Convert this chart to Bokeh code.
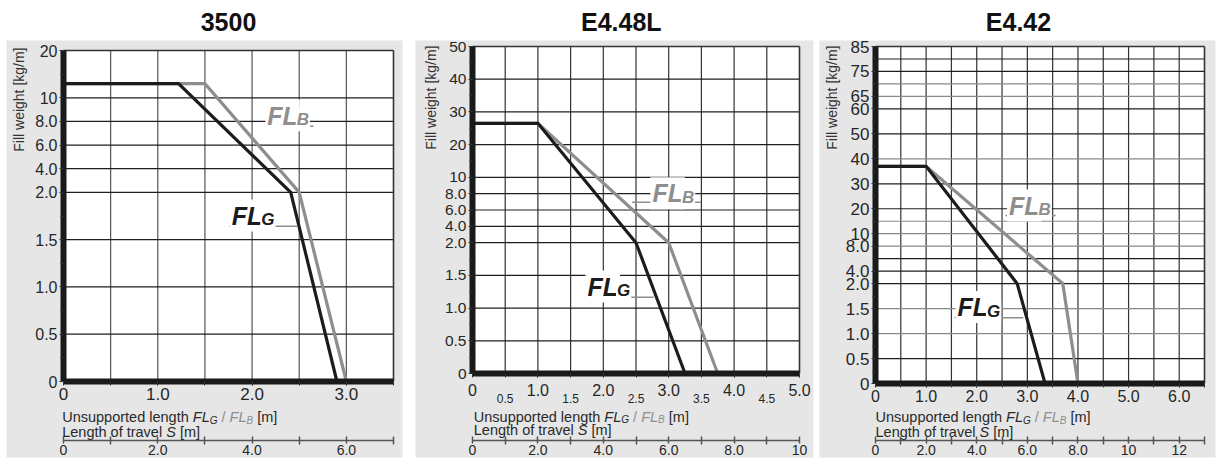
import numpy as np
from bokeh.plotting import figure
from bokeh.models import FixedTicker, Label, Range1d, LinearAxis
from bokeh.layouts import row
from bokeh.embed import file_html
from bokeh.resources import INLINE

# ---------------- data ----------------
TITLES = ["3500", "E4.48L", "E4.42"]

# unsupported length FL [m] vs fill weight [kg/m]
P1_FLG_X = [0.0, 1.22, 2.41, 2.90]
P1_FLG_Y = [13.0, 13.0, 2.0, 0.0]
P1_FLB_X = [0.0, 1.50, 2.50, 3.00]
P1_FLB_Y = [13.0, 13.0, 2.0, 0.0]

P2_FLG_X = [0.0, 1.00, 2.50, 3.25]
P2_FLG_Y = [26.5, 26.5, 2.0, 0.0]
P2_FLB_X = [0.0, 1.00, 3.00, 3.75]
P2_FLB_Y = [26.5, 26.5, 2.0, 0.0]

P3_FLG_X = [0.0, 1.00, 2.80, 3.35]
P3_FLG_Y = [37.0, 37.0, 2.0, 0.0]
P3_FLB_X = [0.0, 1.00, 3.70, 4.00]
P3_FLB_Y = [37.0, 37.0, 2.0, 0.0]

# y tick values / labels (the y axes are non-uniform, piecewise)
P1_Y_TICKS = [0, 0.5, 1.0, 1.5, 2.0, 4.0, 6.0, 8.0, 10, 20]
P1_Y_LABELS = ["0", "0.5", "1.0", "1.5", "2.0", "4.0", "6.0", "8.0", "10", "20"]
P2_Y_TICKS = [0, 0.5, 1.0, 1.5, 2.0, 4.0, 6.0, 8.0, 10, 20, 30, 40, 50]
P2_Y_LABELS = ["0", "0.5", "1.0", "1.5", "2.0", "4.0", "6.0", "8.0", "10", "20", "30", "40", "50"]
P3_Y_TICKS = [0, 0.5, 1.0, 1.5, 2.0, 4.0, 8.0, 10, 20, 30, 40, 50, 60, 65, 75, 85]
P3_Y_LABELS = ["0", "0.5", "1.0", "1.5", "2.0", "4.0", "8.0", "10", "20", "30", "40", "50", "60", "65", "75", "85"]

P1_Y_MINOR = [0.25, 0.75, 1.25, 1.75, 15]
P2_Y_MINOR = [0.25, 0.75, 1.25, 1.75, 15, 25, 35, 45]
P3_Y_MINOR = [0.25, 0.75, 1.25, 1.75, 6.0, 15, 25, 35, 45, 55, 70, 80]

# x (unsupported length) tick labels
P1_X_TICKS = [0, 1, 2, 3]
P1_X_LABELS = ["0", "1.0", "2.0", "3.0"]
P2_X_TICKS = [0, 1, 2, 3, 4, 5]
P2_X_LABELS = ["0", "1.0", "2.0", "3.0", "4.0", "5.0"]
P2_X_HALF_TICKS = [0.5, 1.5, 2.5, 3.5, 4.5]
P2_X_HALF_LABELS = ["0.5", "1.5", "2.5", "3.5", "4.5"]
P3_X_TICKS = [0, 1, 2, 3, 4, 5, 6]
P3_X_LABELS = ["0", "1.0", "2.0", "3.0", "4.0", "5.0", "6.0"]

# length of travel S tick labels
P1_S_TICKS = [0, 2, 4, 6]
P1_S_LABELS = ["0", "2.0", "4.0", "6.0"]
P2_S_TICKS = [0, 2, 4, 6, 8, 10]
P2_S_LABELS = ["0", "2.0", "4.0", "6.0", "8.0", "10"]
P3_S_TICKS = [0, 2, 4, 6, 8, 10, 12]
P3_S_LABELS = ["0", "2.0", "4.0", "6.0", "8.0", "10", "12"]

# ---------------- styling ----------------
FONT = "Liberation Sans"
BG = "#e6e6e6"
C_G = "#1c1c1c"
C_B = "#8e8e8e"
TXT = "#262626"
H = 464

# Arial / Liberation Sans advance widths (per 1000 em)
ADV = {' ': 278, 'U': 722, 'n': 556, 's': 500, 'u': 556, 'p': 556, 'o': 556, 'r': 333,
       't': 278, 'e': 556, 'd': 556, 'l': 222, 'g': 556, 'h': 556, 'F': 611, 'L': 556,
       'G': 778, 'B': 667, '/': 278, '[': 278, ']': 278, 'm': 833, 'f': 278, 'a': 556,
       'v': 500, 'S': 667}


def tw(text, size):
    return sum(ADV.get(c, 556) for c in text) / 1000.0 * size


# layout / placement (page pixel coordinates)
PANELS = [
    dict(title=TITLES[0], left=0, W=408, gray=(6, 402), title_cx=228,
         flg=(P1_FLG_X, P1_FLG_Y), flb=(P1_FLB_X, P1_FLB_Y),
         yt=P1_Y_TICKS, yl=P1_Y_LABELS, ymin=P1_Y_MINOR,
         ypos=[0, 1, 2, 3, 4, 4.5, 5, 5.5, 6, 7],
         ygrid_dark=[0.5, 1.0, 1.5, 2.0, 4.0, 6.0, 8.0, 10], ygrid_gray=[],
         xt=P1_X_TICKS, xl=P1_X_LABELS, xmax=3.5, half=None,
         st=P1_S_TICKS, sl=P1_S_LABELS, smax=7,
         ox=63, oy=381, fw=330, fh=331,
         xfs=17, yfs=16, xstand=2, vgrid="#555555",
         ylab_x=18.3, ylab_top=47, line_x=61.7, line1_y=416.7, line2_y=431,
         lab_b=(2.14, 5.625), ul_b=(2.14, 2.65, 5.40),
         lab_g=(1.764, 3.51), ul_g=(1.76, 2.48, 3.284)),
    dict(title=TITLES[1], left=408, W=408, gray=(415, 813), title_cx=620.8,
         flg=(P2_FLG_X, P2_FLG_Y), flb=(P2_FLB_X, P2_FLB_Y),
         yt=P2_Y_TICKS, yl=P2_Y_LABELS, ymin=P2_Y_MINOR,
         ypos=[0, 1, 2, 3, 4, 4.5, 5, 5.5, 6, 7, 8, 9, 10],
         ygrid_dark=[0.5, 1.0, 1.5, 2.0, 4.0, 6.0, 8.0, 10, 20, 30, 40], ygrid_gray=[],
         xt=P2_X_TICKS, xl=P2_X_LABELS, xmax=5.0, half=(P2_X_HALF_TICKS, P2_X_HALF_LABELS),
         st=P2_S_TICKS, sl=P2_S_LABELS, smax=10,
         ox=472, oy=373, fw=327, fh=327,
         xfs=16, yfs=15.5, xstand=6, vgrid="#333333",
         ylab_x=430, ylab_top=45, line_x=473.3, line1_y=416, line2_y=429.3,
         lab_b=(2.72, 5.514), ul_b=(2.44, 3.49, 5.24),
         lab_g=(1.728, 2.66), ul_g=(1.73, 2.77, 2.33)),
    dict(title=TITLES[2], left=816, W=400, gray=(819, 1215), title_cx=1018,
         flg=(P3_FLG_X, P3_FLG_Y), flb=(P3_FLB_X, P3_FLB_Y),
         yt=P3_Y_TICKS, yl=P3_Y_LABELS, ymin=P3_Y_MINOR,
         ypos=[0, 1, 2, 3, 4, 4.5, 5.5, 6, 7, 8, 9, 10, 11, 11.5, 12.5, 13.5],
         ygrid_dark=[0.5, 2.0, 4.0, 6.0, 20, 30, 50, 60, 75, 80],
         ygrid_gray=[1.0, 1.5, 8.0, 10, 15, 40, 65, 70],
         xt=P3_X_TICKS, xl=P3_X_LABELS, xmax=6.5, half=None,
         st=P3_S_TICKS, sl=P3_S_LABELS, smax=13,
         ox=875, oy=383, fw=329, fh=337,
         xfs=16, yfs=17, xstand=2, vgrid="#333333",
         ylab_x=831.7, ylab_top=45, line_x=875, line1_y=416.7, line2_y=431,
         lab_b=(2.60, 7.13), ul_b=(2.57, 3.56, 6.73),
         lab_g=(1.58, 3.06), ul_g=(1.56, 2.92, 2.63)),
]


def build(cfg):
    L, W = cfg["left"], cfg["W"]
    ox, oy, fw, fh = cfg["ox"] - L, cfg["oy"], cfg["fw"], cfg["fh"]
    sv, sp = cfg["yt"], cfg["ypos"]
    xmax, ytop = cfg["xmax"], sp[-1]
    ppm, pps = fw / xmax, fh / ytop

    def ypos(v):
        return list(np.interp(v, sv, sp))

    def lab(px, py, text, size=14, style="normal", color=TXT, align="left",
            baseline="alphabetic", angle=0.0, bg=None, pad=0):
        # (px, py): page pixel position
        kw = dict(x=0, y=0, x_units="data", y_units="data", text=text,
                  x_offset=(px - L) - ox, y_offset=oy - py,
                  text_font=FONT, text_font_size=f"{size}px", text_font_style=style,
                  text_color=color, text_align=align, text_baseline=baseline, angle=angle)
        if bg is not None:
            kw.update(background_fill_color=bg, padding=pad)
        p.add_layout(Label(**kw))

    p = figure(width=W, height=H, min_border=0, title=None,
               x_range=Range1d(-ox / ppm, (W - ox) / ppm),
               y_range=Range1d((oy - H) / pps, oy / pps),
               x_axis_type=None, y_axis_type=None,
               toolbar_location=None, output_backend="svg")
    p.outline_line_color = None
    p.background_fill_color = "white"
    p.border_fill_color = "white"
    p.extra_x_ranges = {"s": Range1d(-2 * ox / ppm, 2 * (W - ox) / ppm)}

    # grey panel and white plotting area
    g0, g1 = cfg["gray"]
    p.quad(left=[(g0 - L - ox) / ppm], right=[(g1 - L - ox) / ppm],
           bottom=[(oy - 457) / pps], top=[(oy - 40) / pps],
           fill_color=BG, line_color=None)
    p.quad(left=[0], right=[xmax], bottom=[0], top=[ytop], fill_color="white", line_color=None)

    # grid lines (restricted to the plotting area)
    nhalf = int(round(xmax / 0.5))
    vlines = [0.5 * i for i in range(1, nhalf)]
    p.segment(x0=vlines, y0=[0] * len(vlines), x1=vlines, y1=[ytop] * len(vlines),
              line_color=cfg["vgrid"], line_width=1.2)
    hd = ypos(cfg["ygrid_dark"])
    p.segment(x0=[0] * len(hd), y0=hd, x1=[xmax] * len(hd), y1=hd,
              line_color="#1e1e1e", line_width=1.2)
    if cfg["ygrid_gray"]:
        hg = ypos(cfg["ygrid_gray"])
        p.segment(x0=[0] * len(hg), y0=hg, x1=[xmax] * len(hg), y1=hg,
                  line_color="#8a8a8a", line_width=1.2)
    # top / right frame border
    p.segment(x0=[0, xmax], y0=[ytop, 0], x1=[xmax, xmax], y1=[ytop, ytop],
              line_color="#333333", line_width=1.6)

    # curves
    bx, by = cfg["flb"]
    gx, gy = cfg["flg"]
    p.line(bx, ypos(by), line_color=C_B, line_width=3.2, line_join="miter")
    p.line(gx, ypos(gy), line_color=C_G, line_width=3.2, line_join="miter")

    # axes
    xax = LinearAxis(fixed_location=0, bounds=(0, xmax),
                     ticker=FixedTicker(ticks=cfg["xt"], minor_ticks=vlines + [xmax]),
                     major_label_overrides={float(k): v for k, v in zip(cfg["xt"], cfg["xl"])},
                     axis_line_color="#1a1a1a", axis_line_width=6,
                     major_tick_in=0, major_tick_out=4, minor_tick_in=0, minor_tick_out=4,
                     major_tick_line_color="#333333", minor_tick_line_color="#333333",
                     major_label_standoff=cfg["xstand"],
                     major_label_text_font=FONT, major_label_text_font_size=f"{cfg['xfs']}px",
                     major_label_text_color=TXT)
    p.add_layout(xax, "below")
    yticks = ypos(cfg["yt"])
    yax = LinearAxis(fixed_location=0, bounds=(0, ytop),
                     ticker=FixedTicker(ticks=yticks, minor_ticks=ypos(cfg["ymin"])),
                     major_label_overrides={float(k): v for k, v in zip(yticks, cfg["yl"])},
                     axis_line_color="#1a1a1a", axis_line_width=6,
                     major_tick_in=0, major_tick_out=4, minor_tick_in=0, minor_tick_out=3,
                     major_tick_line_color="#333333", minor_tick_line_color="#333333",
                     major_label_standoff=2,
                     major_label_text_font=FONT, major_label_text_font_size=f"{cfg['yfs']}px",
                     major_label_text_color=TXT)
    p.add_layout(yax, "left")
    odd = [i for i in range(cfg["smax"] + 1) if i not in cfg["st"]]
    sax = LinearAxis(x_range_name="s", fixed_location=(oy - 440) / pps, bounds=(0, cfg["smax"]),
                     ticker=FixedTicker(ticks=cfg["st"], minor_ticks=odd),
                     major_label_overrides={float(k): v for k, v in zip(cfg["st"], cfg["sl"])},
                     axis_line_color="#555555", axis_line_width=1.5,
                     major_tick_in=4, major_tick_out=3, minor_tick_in=4, minor_tick_out=4,
                     major_tick_line_color="#555555", minor_tick_line_color="#555555",
                     major_tick_line_width=1.5, minor_tick_line_width=1.5,
                     major_label_standoff=0,
                     major_label_text_font=FONT, major_label_text_font_size="14px",
                     major_label_text_color=TXT)
    p.add_layout(sax, "below")

    # curve labels with leader underline
    for (lx, ly), (u0, u1, uy), sub, col in ((cfg["lab_b"], cfg["ul_b"], "B", C_B),
                                             (cfg["lab_g"], cfg["ul_g"], "G", C_G)):
        p.segment(x0=[u0], y0=[uy], x1=[u1], y1=[uy], line_color=C_B, line_width=1.5)
        px, py = cfg["ox"] + lx * ppm, oy - ly * pps
        lab(px, py, "FL", size=25, style="bold italic", color=col, bg="white", pad=2)
        lab(px + 30.5, py + 4, sub, size=17, style="bold italic", color=col, bg="white", pad=1)

    # title
    lab(cfg["title_cx"], 21.7, cfg["title"], size=25, style="bold", color="#111111",
        align="center", baseline="middle")

    # small half-metre labels
    if cfg["half"]:
        for hx, hl in zip(*cfg["half"]):
            lab(cfg["ox"] + hx * ppm, 398.3, hl, size=12, align="center")

    # y axis title
    lab(cfg["ylab_x"], cfg["ylab_top"], "Fill weight [kg/m]", size=14, color="#333333",
        align="right", baseline="middle", angle=np.pi / 2)

    # x axis titles composed from styled pieces
    fs, ss = 14.5, 10
    y1, y2 = cfg["line1_y"], cfg["line2_y"]
    x = cfg["line_x"]
    lab(x, y1, "Unsupported length", size=fs, color="#2a2a2a")
    x += tw("Unsupported length ", fs)
    lab(x, y1, "FL", size=fs, style="italic", color="#2a2a2a")
    x += tw("FL", fs)
    lab(x, y1 + 3, "G", size=ss, style="italic", color="#2a2a2a")
    x += tw("G", ss) + tw(" ", fs)
    lab(x, y1, "/", size=fs, color=C_B)
    x += tw("/ ", fs)
    lab(x, y1, "FL", size=fs, style="italic", color=C_B)
    x += tw("FL", fs)
    lab(x, y1 + 3, "B", size=ss, style="italic", color=C_B)
    x += tw("B", ss) + tw(" ", fs)
    lab(x, y1, "[m]", size=fs, color="#2a2a2a")

    x = cfg["line_x"]
    lab(x, y2, "Length of travel", size=fs, color="#2a2a2a")
    x += tw("Length of travel ", fs)
    lab(x, y2, "S", size=fs, style="italic", color="#2a2a2a")
    x += tw("S ", fs)
    lab(x, y2, "[m]", size=fs, color="#2a2a2a")
    return p


figs = [build(c) for c in PANELS]
layout = row(*figs, spacing=0)

open("out.html", "w").write(file_html(layout, INLINE, title="Fill weight charts"))
